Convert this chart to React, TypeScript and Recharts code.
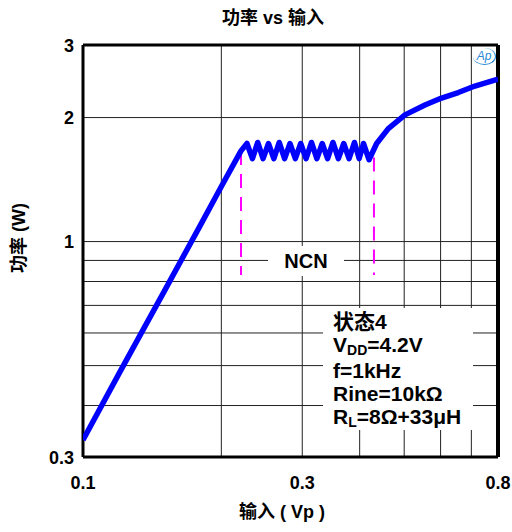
import React from "react";
import {
  LineChart,
  Line,
  XAxis,
  YAxis,
  CartesianGrid,
  ReferenceLine,
} from "recharts";

// input amplitude (Vp) and output power (W)
const inputVp = [
  0.1, 0.12, 0.15, 0.18, 0.2, 0.2207,
  0.2274, 0.2337, 0.24, 0.2465, 0.2533, 0.2602, 0.2673, 0.2746, 0.2821, 0.2898,
  0.2977, 0.3058, 0.3142, 0.3228, 0.3316, 0.3406, 0.3499, 0.3595, 0.3693, 0.3793,
  0.3897, 0.399, 0.4077, 0.4192,
  0.4355, 0.4617, 0.502, 0.5547, 0.603, 0.6556, 0.7126, 0.8,
];
const powerW = [
  0.33, 0.48, 0.755, 1.095, 1.36, 1.66,
  1.73, 1.59, 1.74, 1.59, 1.73, 1.59, 1.74, 1.59, 1.73, 1.59,
  1.73, 1.59, 1.74, 1.59, 1.73, 1.59, 1.74, 1.59, 1.73, 1.59,
  1.74, 1.59, 1.73, 1.58,
  1.73, 1.88, 2.03, 2.145, 2.23, 2.3, 2.385, 2.48,
];

const xGridTicks = [0.1, 0.2, 0.3, 0.4, 0.5, 0.6, 0.7, 0.8];
const xLabelTicks = [0.1, 0.3, 0.8];
const yGridTicks = [0.3, 0.4, 0.5, 0.6, 0.7, 0.8, 0.9, 1, 2, 3];
const yLabelTicks = [0.3, 1, 2, 3];

// NCN region edges (Vp) and the span of the dashed markers (W)
const ncnEdges = [0.2207, 0.4297];
const ncnTop = [1.66, 1.6];
const ncnBottom = 0.83;

const data = inputVp.map((x, i) => ({ x, y: powerW[i] }));

const FONT = '"Liberation Sans", Arial, "Noto Sans CJK SC", sans-serif';

function XTick(props: any) {
  const { x, payload } = props;
  if (!xLabelTicks.includes(payload.value)) return <g />;
  return (
    <text x={x} y={489} textAnchor="middle" fontFamily={FONT} fontWeight="bold" fontSize={18} fill="#000">
      {payload.value}
    </text>
  );
}

function YTick(props: any) {
  const { y, payload } = props;
  if (!yLabelTicks.includes(payload.value)) return <g />;
  return (
    <text x={74} y={y + 6.5} textAnchor="end" fontFamily={FONT} fontWeight="bold" fontSize={18} fill="#000">
      {payload.value}
    </text>
  );
}

export default function App() {
  const txt: React.CSSProperties = {
    position: "absolute",
    fontFamily: FONT,
    fontWeight: "bold",
    color: "#000",
    whiteSpace: "nowrap",
  };
  const sub: React.CSSProperties = { fontSize: 14, position: "relative", top: 3 };

  return (
    <div style={{ position: "absolute", left: 0, top: 0, width: 512, height: 532, background: "#fff" }}>
      <LineChart width={512} height={532} data={data} margin={{ top: 45, right: 14, left: 0, bottom: 0 }}>
        <CartesianGrid stroke="#222" strokeWidth={1} />
        <XAxis
          dataKey="x"
          type="number"
          scale="log"
          domain={[0.1, 0.8]}
          ticks={xGridTicks}
          interval={0}
          allowDataOverflow
          tickLine={false}
          axisLine={false}
          height={75}
          tick={<XTick />}
        />
        <YAxis
          type="number"
          scale="log"
          domain={[0.3, 3]}
          ticks={yGridTicks}
          interval={0}
          allowDataOverflow
          tickLine={false}
          axisLine={false}
          width={83}
          tick={<YTick />}
        />
        <ReferenceLine x={0.1} stroke="#000" strokeWidth={3} />
        <ReferenceLine x={0.8} stroke="#000" strokeWidth={4} />
        <ReferenceLine y={0.3} stroke="#000" strokeWidth={3} />
        <ReferenceLine y={3} stroke="#000" strokeWidth={3} />
        {ncnEdges.map((e, i) => (
          <ReferenceLine
            key={e}
            segment={[
              { x: e, y: ncnTop[i] },
              { x: e, y: ncnBottom },
            ]}
            stroke="#FF00FF"
            strokeWidth={2}
            strokeDasharray="14 9"
          />
        ))}
        <Line
          dataKey="y"
          type="linear"
          stroke="#0000FF"
          strokeWidth={5.5}
          strokeLinejoin="round"
          dot={false}
          isAnimationActive={false}
        />
      </LineChart>

      <div style={{ ...txt, left: 173, top: 8, width: 200, textAlign: "center", fontSize: 18, lineHeight: "20px" }}>
        功率 vs 输入
      </div>
      <div style={{ ...txt, left: 182, top: 502, width: 200, textAlign: "center", fontSize: 18, lineHeight: "20px" }}>
        输入 ( Vp )
      </div>
      <div
        style={{
          ...txt,
          left: -41,
          top: 228,
          width: 120,
          textAlign: "center",
          fontSize: 18,
          lineHeight: "20px",
          transform: "rotate(-90deg)",
        }}
      >
        功率 (W)
      </div>

      <div
        style={{
          ...txt,
          left: 268,
          top: 246,
          width: 76,
          height: 30,
          background: "#fff",
          textAlign: "center",
          fontSize: 20,
          lineHeight: "30px",
        }}
      >
        NCN
      </div>

      <div
        style={{
          ...txt,
          left: 323,
          top: 308,
          width: 140,
          height: 120,
          paddingLeft: 10,
          paddingTop: 2,
          background: "#fff",
          fontSize: 21,
          lineHeight: "23px",
        }}
      >
        <div>状态4</div>
        <div>
          V<span style={sub}>DD</span>=4.2V
        </div>
        <div>f=1kHz</div>
        <div>Rine=10kΩ</div>
        <div>
          R<span style={sub}>L</span>=8Ω+33μH
        </div>
      </div>

      <div
        style={{
          position: "absolute",
          left: 473,
          top: 48,
          width: 22,
          height: 16,
          borderRadius: "50%",
          borderRight: "1.5px solid #2a8ad4",
          borderBottom: "1.5px solid #2a8ad4",
          color: "#2a8ad4",
          fontFamily: FONT,
          fontStyle: "italic",
          fontSize: 12,
          lineHeight: "16px",
          textAlign: "center",
        }}
      >
        Ap
      </div>
    </div>
  );
}
